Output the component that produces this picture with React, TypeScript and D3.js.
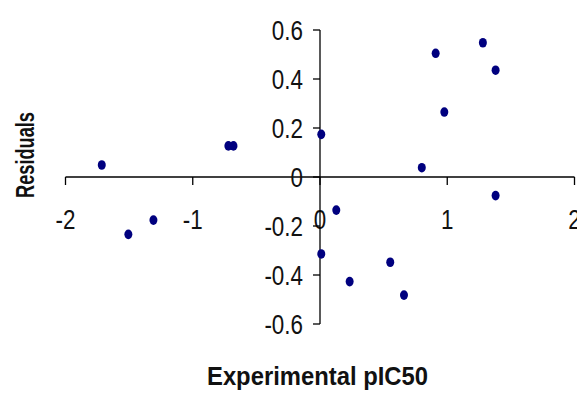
import React from "react";
import * as d3 from "d3";

const experimental = [-1.715, -1.506, -1.309, -0.72, -0.68, 0.01, 0.01, 0.128, 0.233, 0.552, 0.66, 0.8, 0.909, 0.977, 1.28, 1.38, 1.38];
const residuals = [0.049, -0.234, -0.176, 0.127, 0.127, 0.174, -0.314, -0.135, -0.427, -0.348, -0.482, 0.038, 0.505, 0.265, 0.548, 0.436, -0.076];
const xTicks = [-2, -1, 0, 1, 2];
const yTicks = [-0.6, -0.4, -0.2, 0, 0.2, 0.4, 0.6];
const xTitle = "Experimental pIC50";
const yTitle = "Residuals";

export default function App() {
  const W = 577, H = 393;
  const x = d3.scaleLinear().domain([-2, 2]).range([65.5, 574.5]);
  const y = d3.scaleLinear().domain([-0.6, 0.6]).range([324, 30]);
  const x0 = x(0), y0 = y(0);
  const fmtY = (v: number) => (v === 0 ? "0" : v.toFixed(1));
  const lab: React.CSSProperties = { fontFamily: "'Liberation Sans', Arial, sans-serif", fontSize: 28, fill: "#111" };
  return (
    <svg width={W} height={H} style={{ position: "absolute", left: 0, top: 0, background: "#fff" }}>
      <rect width={W} height={H} fill="#fff" />
      {/* x axis */}
      <line x1={x(-2)} x2={x(2)} y1={y0} y2={y0} stroke="#000" strokeWidth={1.3} />
      {xTicks.map((t) => (
        <g key={"xt" + t}>
          <line x1={x(t)} x2={x(t)} y1={y0} y2={y0 + 8} stroke="#000" strokeWidth={1.3} />
          <text transform={`translate(${x(t)},${y0 + 52}) scale(0.8,1)`} textAnchor="middle" style={lab}>
            {String(t)}
          </text>
        </g>
      ))}
      {/* y axis */}
      <line x1={x0} x2={x0} y1={y(0.6)} y2={y(-0.6)} stroke="#000" strokeWidth={1.3} />
      {yTicks.map((t) => (
        <g key={"yt" + t}>
          <line x1={x0 - 7} x2={x0} y1={y(t)} y2={y(t)} stroke="#000" strokeWidth={1.3} />
          <text transform={`translate(303,${y(t) + 10}) scale(0.8,1)`} textAnchor="end" style={lab}>
            {fmtY(t)}
          </text>
        </g>
      ))}
      {/* points */}
      {experimental.map((v, i) => (
        <ellipse key={"p" + i} cx={x(v)} cy={y(residuals[i])} rx={4} ry={4.8} fill="#00007f" />
      ))}
      {/* titles */}
      <text
        x={317.5}
        y={385}
        textAnchor="middle"
        textLength={221}
        lengthAdjust="spacingAndGlyphs"
        style={{ fontFamily: "'Liberation Sans', Arial, sans-serif", fontSize: 25, fontWeight: "bold", fill: "#111" }}
      >
        {xTitle}
      </text>
      <text
        transform={`translate(34,155) rotate(-90)`}
        textAnchor="middle"
        textLength={86}
        lengthAdjust="spacingAndGlyphs"
        style={{ fontFamily: "'Liberation Sans', Arial, sans-serif", fontSize: 26, fontWeight: "bold", fill: "#111" }}
      >
        {yTitle}
      </text>
    </svg>
  );
}
